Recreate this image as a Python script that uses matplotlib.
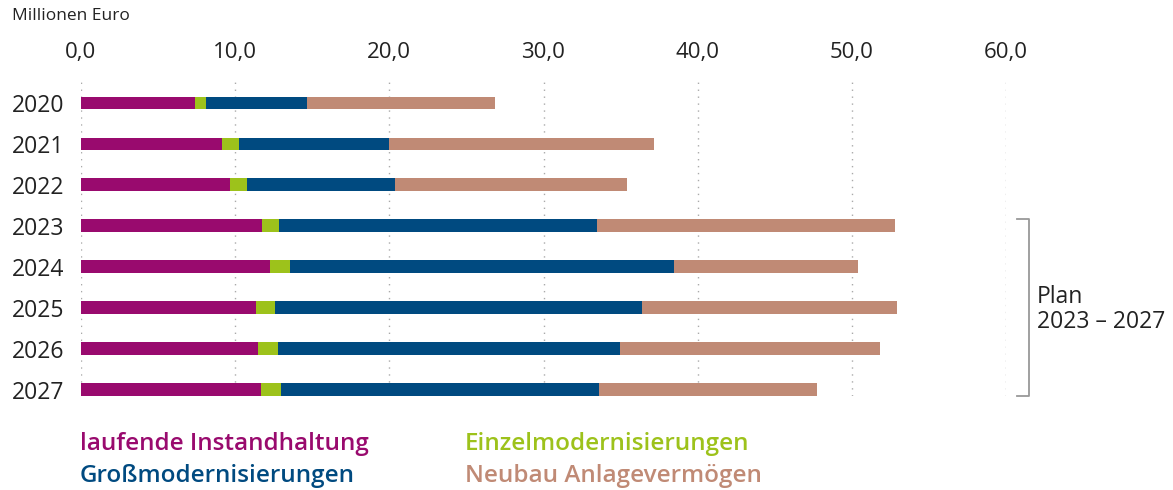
import matplotlib
matplotlib.use("Agg")
import matplotlib.pyplot as plt
from matplotlib.transforms import blended_transform_factory
import numpy as np

years = ["2020", "2021", "2022", "2023", "2024", "2025", "2026", "2027"]
laufende = [7.38, 9.17, 9.67, 11.73, 12.23, 11.34, 11.46, 11.66]
einzel = [0.70, 1.10, 1.12, 1.09, 1.32, 1.26, 1.32, 1.29]
gross = [6.58, 9.73, 9.61, 20.68, 24.91, 23.78, 22.21, 20.67]
neubau = [12.20, 17.16, 15.04, 19.31, 11.97, 16.54, 16.85, 14.13]
series_names = ["laufende Instandhaltung", "Einzelmodernisierungen",
                "Großmodernisierungen", "Neubau Anlagevermögen"]
xticks = [0, 10, 20, 30, 40, 50, 60]
xtick_labels = ["0,0", "10,0", "20,0", "30,0", "40,0", "50,0", "60,0"]

colors = ["#990a6e", "#9dc21b", "#004a80", "#c08a75"]
FONT = ["Open Sans", "DejaVu Sans"]
plt.rcParams["font.family"] = FONT

W, H = 1173, 490
fig = plt.figure(figsize=(W / 100, H / 100), dpi=100)
left, right = 81 / W, 1006 / W
top, bottom = 1 - 82 / H, 1 - 396 / H
ax = fig.add_axes([left, bottom, right - left, top - bottom])

y = np.arange(len(years))
h = 0.31
base = np.zeros(len(years))
for vals, c, name in zip([laufende, einzel, gross, neubau], colors, series_names):
    ax.barh(y, vals, left=base, height=h, color=c, label=name, zorder=3, linewidth=0)
    base = base + np.array(vals)

ax.set_xlim(0, 60)
ax.set_ylim(7 + h / 2, -0.51)
ax.xaxis.tick_top()
ax.set_xticks(xticks)
ax.set_xticklabels(xtick_labels, fontsize=16, color="#222222")
ax.set_yticks(y)
ax.set_yticklabels(years, fontsize=16.5, color="#222222")
ax.tick_params(axis="x", length=0, pad=14)
ax.tick_params(axis="y", length=0, pad=12)
ax.grid(axis="x", linestyle=(0, (1, 4)), color="#aaaaaa", linewidth=1.0, zorder=0)
ax.grid(axis="y", visible=False)
for s in ax.spines.values():
    s.set_visible(False)

fig.text(12 / W, 1 - 16 / H, "Millionen Euro", fontsize=12.5, color="#222222",
         va="center", ha="left")

# Plan bracket
tr = blended_transform_factory(ax.transAxes, ax.transData)
xb = 1.0249
xs = 1.012
y0, y1 = 3 - h / 2 - 0.02, 7 + h / 2
ax.plot([xs, xb, xb, xs], [y0, y0, y1, y1], transform=tr, color="#999999",
        lw=1.3, clip_on=False)
ax.text(1.0335, 5.05, "Plan\n2023 – 2027", transform=tr, fontsize=16.5,
        color="#222222", va="center", ha="left", linespacing=1.05)

# Legend as coloured text
leg_pos = [(80, 444), (465, 444), (80, 476), (465, 476)]
for (px, py), name, c in zip(leg_pos, series_names, colors):
    fig.text(px / W, 1 - py / H, name, fontsize=17.5, color=c, fontweight="semibold",
             va="center", ha="left")

fig.savefig("out.png", dpi=100)
